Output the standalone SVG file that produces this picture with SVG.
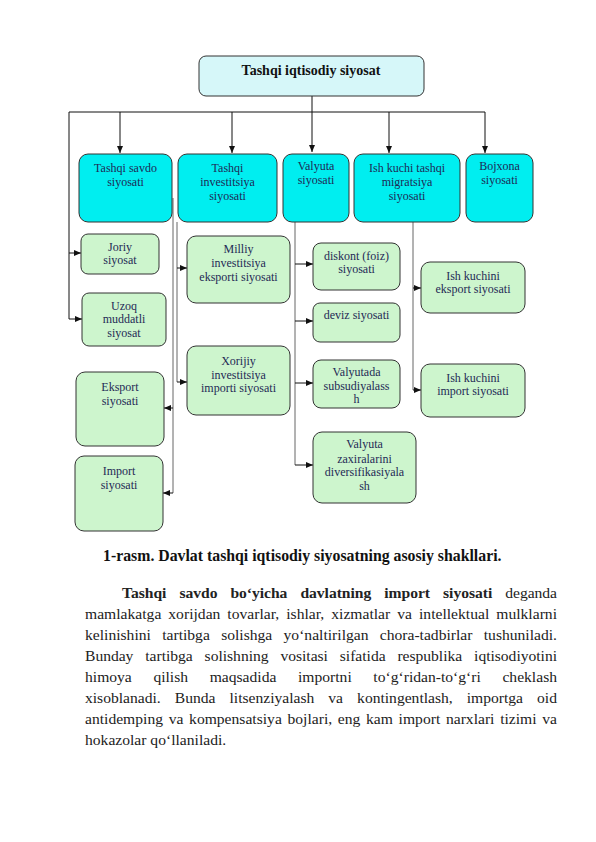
<svg xmlns="http://www.w3.org/2000/svg" width="596" height="842" viewBox="0 0 596 842">
<defs>
<marker id="ah" markerUnits="userSpaceOnUse" markerWidth="7" markerHeight="6" refX="7" refY="3" orient="auto"><path d="M0,0 L7,3 L0,6 Z" fill="#111"/></marker>
</defs>
<style>
.top{fill:#d6f7f9;stroke:#333;stroke-width:1}
.l2{fill:#00eef0;stroke:#333;stroke-width:1}
.gr{fill:#cdf5cd;stroke:#333;stroke-width:1}
.bt{font-family:"Liberation Serif","Times New Roman",serif;font-size:12px;fill:#1f2a55;text-anchor:middle}
.tt{font-family:"Liberation Serif","Times New Roman",serif;font-size:14px;font-weight:bold;fill:#111;text-anchor:middle}
.cn{stroke:#111;stroke-width:1;fill:none}
.cg{stroke:#666;stroke-width:1;fill:none}
.ar{stroke:#111;stroke-width:1;fill:none;marker-end:url(#ah)}
.p{font-family:"Liberation Serif","Times New Roman",serif;font-size:15.6px;fill:#222}
.cap{font-family:"Liberation Serif","Times New Roman",serif;font-size:15.8px;font-weight:bold;fill:#111}
</style>
<rect width="596" height="842" fill="#fff"/>
<g id="connectors">
<line class="cn" x1="312" y1="96" x2="312" y2="112"/>
<line class="cn" x1="69" y1="112" x2="485" y2="112"/>
<line class="ar" x1="312" y1="112" x2="312" y2="152"/>
<line class="ar" x1="120" y1="112" x2="120" y2="153"/>
<line class="ar" x1="232" y1="112" x2="232" y2="153"/>
<line class="ar" x1="389" y1="112" x2="389" y2="153"/>
<line class="ar" x1="485" y1="112" x2="485" y2="153"/>
<line class="cn" x1="69" y1="112" x2="69" y2="319"/>
<line class="ar" x1="69" y1="253" x2="81" y2="253"/>
<line class="ar" x1="69" y1="319" x2="82" y2="319"/>
<line class="cg" x1="173" y1="198" x2="173" y2="493"/>
<line class="ar" x1="173" y1="408" x2="164" y2="408"/>
<line class="ar" x1="173" y1="493" x2="163" y2="493"/>
<line class="cg" x1="177" y1="222" x2="177" y2="382"/>
<line class="ar" x1="177" y1="268" x2="187" y2="268"/>
<line class="ar" x1="177" y1="382" x2="187" y2="382"/>
<line class="cg" x1="295" y1="222" x2="295" y2="465"/>
<line class="ar" x1="295" y1="264" x2="313" y2="264"/>
<line class="ar" x1="295" y1="321" x2="313" y2="321"/>
<line class="ar" x1="295" y1="383" x2="313" y2="383"/>
<line class="ar" x1="295" y1="465" x2="313" y2="465"/>
<line class="cg" x1="413" y1="222" x2="413" y2="390"/>
<line class="ar" x1="413" y1="288" x2="421" y2="288"/>
<line class="ar" x1="413" y1="390" x2="421" y2="390"/>
</g>
<g id="n-root"><rect class="top" x="199" y="56" width="225" height="40" rx="7"/><text class="tt" x="311" y="75">Tashqi iqtisodiy siyosat</text></g>
<g id="n-savdo"><rect class="l2" x="79" y="154" width="93" height="68" rx="9"/><text class="bt" x="125.5" y="172">Tashqi savdo</text><text class="bt" x="125.5" y="186">siyosati</text></g>
<g id="n-invest"><rect class="l2" x="178" y="154" width="99" height="68" rx="9"/><text class="bt" x="227.5" y="172">Tashqi</text><text class="bt" x="227.5" y="186">investitsiya</text><text class="bt" x="227.5" y="200">siyosati</text></g>
<g id="n-valyuta"><rect class="l2" x="283" y="154" width="66" height="68" rx="9"/><text class="bt" x="316" y="170">Valyuta</text><text class="bt" x="316" y="184">siyosati</text></g>
<g id="n-ishkuchi"><rect class="l2" x="354" y="154" width="106" height="68" rx="9"/><text class="bt" x="407" y="172">Ish kuchi tashqi</text><text class="bt" x="407" y="186">migratsiya</text><text class="bt" x="407" y="200">siyosati</text></g>
<g id="n-bojxona"><rect class="l2" x="466" y="154" width="67" height="68" rx="9"/><text class="bt" x="499.5" y="170">Bojxona</text><text class="bt" x="499.5" y="184">siyosati</text></g>
<g id="n-joriy"><rect class="gr" x="81" y="234" width="78" height="40" rx="7"/><text class="bt" x="120" y="251">Joriy</text><text class="bt" x="120" y="264">siyosat</text></g>
<g id="n-uzoq"><rect class="gr" x="82" y="293" width="84" height="53" rx="7"/><text class="bt" x="124" y="310">Uzoq</text><text class="bt" x="124" y="323">muddatli</text><text class="bt" x="124" y="337">siyosat</text></g>
<g id="n-eksport"><rect class="gr" x="76" y="372" width="88" height="74" rx="9"/><text class="bt" x="120" y="391">Eksport</text><text class="bt" x="120" y="405">siyosati</text></g>
<g id="n-import"><rect class="gr" x="75" y="456" width="88" height="75" rx="9"/><text class="bt" x="119" y="475">Import</text><text class="bt" x="119" y="489">siyosati</text></g>
<g id="n-milliy"><rect class="gr" x="187" y="236" width="103" height="67" rx="9"/><text class="bt" x="238.5" y="253">Milliy</text><text class="bt" x="238.5" y="267">investitsiya</text><text class="bt" x="238.5" y="281">eksporti siyosati</text></g>
<g id="n-xorijiy"><rect class="gr" x="187" y="346" width="103" height="69" rx="9"/><text class="bt" x="238.5" y="365">Xorijiy</text><text class="bt" x="238.5" y="379">investitsiya</text><text class="bt" x="238.5" y="392">importi siyosati</text></g>
<g id="n-diskont"><rect class="gr" x="313" y="243" width="87" height="47" rx="8"/><text class="bt" x="356.5" y="260">diskont (foiz)</text><text class="bt" x="356.5" y="273">siyosati</text></g>
<g id="n-deviz"><rect class="gr" x="313" y="303" width="87" height="39" rx="7"/><text class="bt" x="356.5" y="319">deviz siyosati</text></g>
<g id="n-subsid"><rect class="gr" x="313" y="360" width="87" height="48" rx="8"/><text class="bt" x="356.5" y="376">Valyutada</text><text class="bt" x="356.5" y="390">subsudiyalass</text><text class="bt" x="356.5" y="403">h</text></g>
<g id="n-zaxira"><rect class="gr" x="313" y="432" width="103" height="71" rx="9"/><text class="bt" x="364.5" y="448">Valyuta</text><text class="bt" x="364.5" y="463">zaxiralarini</text><text class="bt" x="364.5" y="476">diversifikasiyala</text><text class="bt" x="364.5" y="490">sh</text></g>
<g id="n-ishexp"><rect class="gr" x="421" y="262" width="104" height="51" rx="9"/><text class="bt" x="473" y="280">Ish kuchini</text><text class="bt" x="473" y="293">eksport siyosati</text></g>
<g id="n-ishimp"><rect class="gr" x="421" y="364" width="104" height="53" rx="9"/><text class="bt" x="473" y="382">Ish kuchini</text><text class="bt" x="473" y="395">import siyosati</text></g>
<g id="caption"><text class="cap" x="103" y="561">1-rasm. Davlat tashqi iqtisodiy siyosatning asosiy shakllari.</text></g>
<g id="paragraph">
<text class="p" x="122" y="598" word-spacing="9.2" textLength="435" lengthAdjust="spacing"><tspan font-weight="bold">Tashqi savdo bo‘yicha davlatning import siyosati</tspan> deganda</text>
<text class="p" x="85" y="619" word-spacing="3.1" textLength="472" lengthAdjust="spacing">mamlakatga xorijdan tovarlar, ishlar, xizmatlar va intellektual mulklarni</text>
<text class="p" x="85" y="640" word-spacing="7.4" textLength="472" lengthAdjust="spacing">kelinishini tartibga solishga yo‘naltirilgan chora-tadbirlar tushuniladi.</text>
<text class="p" x="85" y="661" word-spacing="8" textLength="472" lengthAdjust="spacing">Bunday tartibga solishning vositasi sifatida respublika iqtisodiyotini</text>
<text class="p" x="85" y="682" word-spacing="17.7" textLength="472" lengthAdjust="spacing">himoya qilish maqsadida importni to‘g‘ridan-to‘g‘ri cheklash</text>
<text class="p" x="85" y="703" word-spacing="10.2" textLength="472" lengthAdjust="spacing">xisoblanadi. Bunda litsenziyalash va kontingentlash, importga oid</text>
<text class="p" x="85" y="724" word-spacing="1.8" textLength="472" lengthAdjust="spacing">antidemping va kompensatsiya bojlari, eng kam import narxlari tizimi va</text>
<text class="p" x="85" y="745">hokazolar qo‘llaniladi.</text>
</g>
</svg>
